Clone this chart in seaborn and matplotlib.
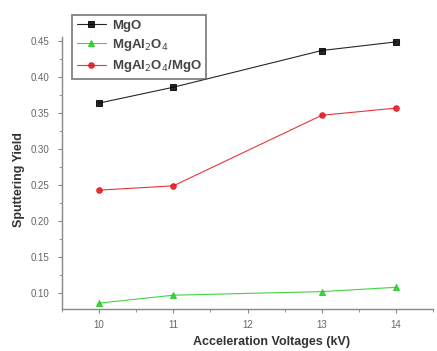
import pandas as pd
import matplotlib.pyplot as plt
import seaborn as sns
from matplotlib.ticker import MultipleLocator

# Data
voltages = [10, 11, 13, 14]
mgo = [0.364, 0.386, 0.437, 0.449]
mgal2o4 = [0.086, 0.097, 0.102, 0.108]
mgal2o4_mgo = [0.243, 0.249, 0.347, 0.357]

labels = ["MgO", "MgAl$_2$O$_4$", "MgAl$_2$O$_4$/MgO"]
colors = ["black", "#22cc22", "#e8101a"]
markers = ["s", "^", "o"]

df = pd.DataFrame({
    "Voltage": voltages * 3,
    "Yield": mgo + mgal2o4 + mgal2o4_mgo,
    "Sample": [labels[0]] * 4 + [labels[1]] * 4 + [labels[2]] * 4,
})

sns.set_style("ticks")
plt.rcParams["font.family"] = ["Liberation Sans", "DejaVu Sans"]

fig = plt.figure(figsize=(4.37, 3.51), dpi=100)
ax = fig.add_axes([0.142, 0.12, 0.849, 0.775])

for lab, col, mk in zip(labels, colors, markers):
    sub = df[df["Sample"] == lab]
    sns.lineplot(data=sub, x="Voltage", y="Yield", color=col, marker=mk,
                 markersize=4, markeredgecolor=col, linewidth=0.8,
                 alpha=0.85, label=lab, ax=ax)

ax.set_xlim(9.5, 14.5)
ax.set_ylim(0.078, 0.456)
ax.xaxis.set_major_locator(MultipleLocator(1))
ax.xaxis.set_minor_locator(MultipleLocator(0.5))
ax.yaxis.set_minor_locator(MultipleLocator(0.025))
ax.set_yticks([0.10, 0.15, 0.20, 0.25, 0.30, 0.35, 0.40, 0.45])
ax.set_yticklabels(["0.10", "0.15", "0.20", "0.25", "0.30", "0.35", "0.40", "0.45"])

ax.tick_params(which="major", direction="out", length=3, width=0.8,
               colors="#888888", labelsize=7, labelcolor="#666666")
ax.tick_params(axis="x", which="major", pad=5)
ax.tick_params(axis="y", which="major", pad=6)
ax.tick_params(which="minor", direction="out", length=2, width=0.6, colors="#888888")

for s in ["top", "right"]:
    ax.spines[s].set_visible(False)
for s in ["left", "bottom"]:
    ax.spines[s].set_color("#888888")
    ax.spines[s].set_linewidth(1.0)

ax.set_xlabel("Acceleration Voltages (kV)", fontsize=9, fontweight="bold",
              color="#333333", x=0.566, labelpad=4)
ax.set_ylabel("Sputtering Yield", fontsize=9, fontweight="bold",
              color="#333333", y=0.475, labelpad=4)

leg = ax.legend(loc="upper left", bbox_to_anchor=(0.01, 1.105), fontsize=9.5,
                frameon=True, fancybox=False, handlelength=2.2,
                borderpad=0.35, labelspacing=0.4, handletextpad=0.45)
leg.get_frame().set_edgecolor("#555555")
leg.get_frame().set_linewidth(1.2)
for t in leg.get_texts():
    t.set_fontweight("bold")
    t.set_color("#444444")

fig.savefig("out.png", dpi=100)
